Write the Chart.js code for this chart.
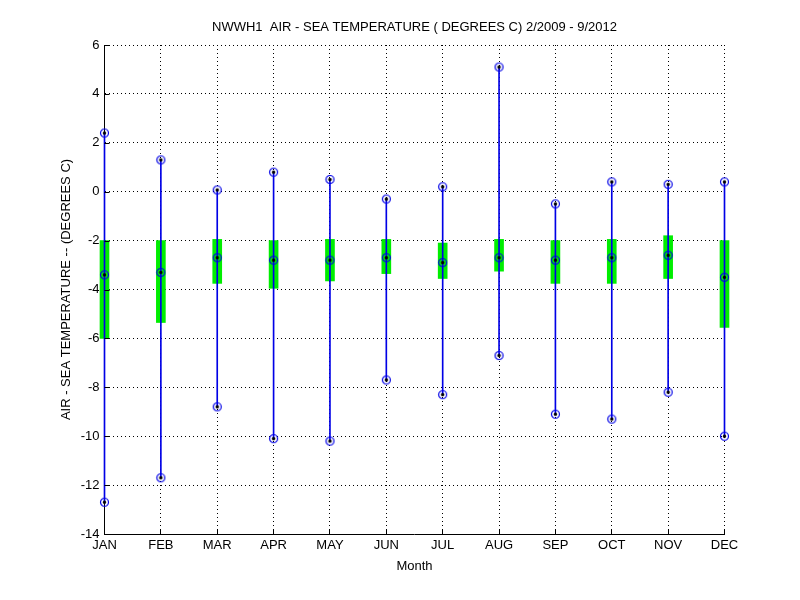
<!DOCTYPE html>
<html>
<head>
<meta charset="utf-8">
<script src="https://cdn.jsdelivr.net/npm/chart.js@4.4.0/dist/chart.umd.min.js"></script>
<style>
  body { margin: 0; background: #fff; }
  canvas { display: block; }
</style>
</head>
<body>
<canvas id="chart" width="800" height="600"></canvas>
<script>
// monthly air - sea temperature difference
const months = ['JAN', 'FEB', 'MAR', 'APR', 'MAY', 'JUN', 'JUL', 'AUG', 'SEP', 'OCT', 'NOV', 'DEC'];
const maxima = [2.4, 1.3, 0.07, 0.8, 0.5, -0.3, 0.2, 5.1, -0.5, 0.4, 0.3, 0.4];
const minima = [-12.7, -11.7, -8.8, -10.1, -10.2, -7.7, -8.3, -6.7, -9.1, -9.3, -8.2, -10.0];
const medians = [-3.4, -3.3, -2.7, -2.8, -2.8, -2.7, -2.9, -2.7, -2.8, -2.7, -2.6, -3.5];
const upperQ = [-2.0, -2.0, -1.95, -2.0, -1.95, -1.95, -2.1, -1.95, -2.0, -1.95, -1.8, -2.0];
const lowerQ = [-6.0, -5.35, -3.75, -3.95, -3.65, -3.35, -3.55, -3.25, -3.75, -3.75, -3.55, -5.55];

const FONT = 'Liberation Sans, Arial, sans-serif';
const BLUE = '#0000e6';

// marker: blue ring with a black dot in the middle
const marker = document.createElement('canvas');
marker.width = 11;
marker.height = 11;
(function () {
  const c = marker.getContext('2d');
  c.strokeStyle = BLUE;
  c.lineWidth = 1.2;
  c.beginPath();
  c.arc(5.5, 5.5, 4, 0, Math.PI * 2);
  c.stroke();
  c.fillStyle = '#000';
  c.beginPath();
  c.arc(5.5, 5.5, 1.7, 0, Math.PI * 2);
  c.fill();
})();

const pointSet = (values, label) => ({
  type: 'line',
  label,
  data: values,
  showLine: false,
  pointStyle: marker,
  pointRadius: 5,
  clip: false,
  order: 0,
});

// small inward tick marks like the original axes
const innerTicks = {
  id: 'innerTicks',
  afterDatasetsDraw(chart) {
    const { ctx, chartArea, scales } = chart;
    ctx.save();
    ctx.strokeStyle = '#000';
    ctx.lineWidth = 1;
    ctx.beginPath();
    scales.y.ticks.forEach((t) => {
      const y = Math.round(scales.y.getPixelForValue(t.value)) + 0.5;
      ctx.moveTo(chartArea.left, y);
      ctx.lineTo(chartArea.left + 5, y);
    });
    months.forEach((m, i) => {
      const x = Math.floor(scales.x.getPixelForValue(i)) + 0.5;
      ctx.moveTo(x, chartArea.bottom);
      ctx.lineTo(x, chartArea.bottom - 5);
    });
    ctx.stroke();
    ctx.restore();
  },
};

new Chart(document.getElementById('chart'), {
  type: 'bar',
  data: {
    labels: months,
    datasets: [
      pointSet(maxima, 'max'),
      pointSet(medians, 'median'),
      pointSet(minima, 'min'),
      {
        label: 'range',
        data: months.map((m, i) => [minima[i], maxima[i]]),
        backgroundColor: BLUE,
        barThickness: 1,
        grouped: false,
        clip: false,
        order: 1,
      },
      {
        label: 'box',
        data: months.map((m, i) => [lowerQ[i], upperQ[i]]),
        backgroundColor: '#00ee00',
        barThickness: 9,
        grouped: false,
        clip: false,
        order: 2,
      },
    ],
  },
  options: {
    responsive: false,
    animation: false,
    devicePixelRatio: 1,
    layout: { padding: { left: 0, right: 75.5, top: 0, bottom: 0 } },
    plugins: {
      legend: { display: false },
      tooltip: { enabled: false },
      title: {
        display: true,
        fullSize: false,
        text: 'NWWH1  AIR - SEA TEMPERATURE ( DEGREES C) 2/2009 - 9/2012',
        color: '#000',
        font: { family: FONT, size: 13, weight: 'normal' },
        padding: { top: 19.4, bottom: 10 },
      },
    },
    scales: {
      x: {
        offset: false,
        grid: { offset: false, color: '#000', drawTicks: false },
        border: { display: true, color: '#000', width: 1, dash: [1, 3] },
        ticks: {
          color: '#000',
          font: { family: FONT, size: 13 },
          padding: 4,
          autoSkip: false,
          maxRotation: 0,
        },
        title: {
          display: true,
          text: 'Month',
          color: '#000',
          font: { family: FONT, size: 13 },
          padding: { top: 0, bottom: 26 },
        },
        afterFit(scale) { scale.height = 66; },
      },
      y: {
        min: -14,
        max: 6,
        grid: { color: '#000', drawTicks: false },
        border: { display: true, color: '#000', width: 1, dash: [1, 3] },
        ticks: {
          stepSize: 2,
          color: '#000',
          font: { family: FONT, size: 13 },
          padding: 5,
        },
        title: {
          display: true,
          text: 'AIR - SEA TEMPERATURE -- (DEGREES C)',
          color: '#000',
          font: { family: FONT, size: 13 },
          padding: { top: 59, bottom: 0 },
        },
        afterFit(scale) { scale.width = 104.5; },
      },
    },
  },
  plugins: [innerTicks],
});
</script>
</body>
</html>
